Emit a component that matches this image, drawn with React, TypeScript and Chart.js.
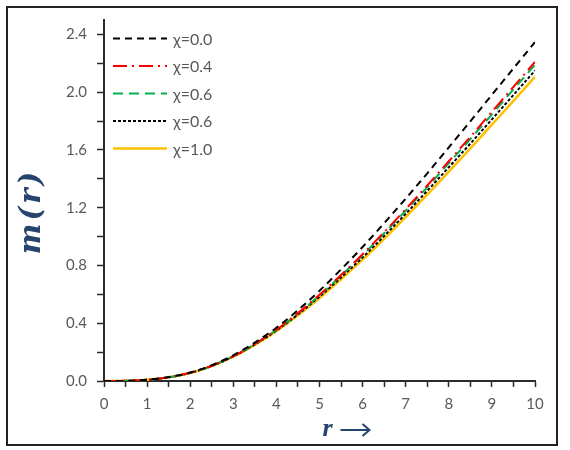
import React, { useEffect, useRef } from "react";
import { Chart, registerables } from "chart.js";

Chart.register(...registerables);

const rValues = [0, 0.5, 1, 1.5, 2, 2.5, 3, 3.5, 4, 4.5, 5, 5.5, 6, 6.5, 7, 7.5, 8, 8.5, 9, 9.5, 10];
const chi00 = [0, 0.001, 0.009, 0.027, 0.059, 0.109, 0.178, 0.266, 0.369, 0.49, 0.625, 0.773, 0.928, 1.093, 1.263, 1.438, 1.618, 1.798, 1.982, 2.165, 2.347];
const chi04 = [0, 0.001, 0.008, 0.026, 0.057, 0.106, 0.172, 0.257, 0.355, 0.47, 0.597, 0.734, 0.878, 1.031, 1.19, 1.354, 1.522, 1.691, 1.864, 2.037, 2.21];
const chi06a = [0, 0.001, 0.008, 0.026, 0.056, 0.105, 0.172, 0.256, 0.353, 0.467, 0.593, 0.729, 0.871, 1.023, 1.18, 1.342, 1.509, 1.676, 1.847, 2.019, 2.19];
const chi06b = [0, 0.001, 0.008, 0.025, 0.056, 0.104, 0.17, 0.253, 0.349, 0.461, 0.584, 0.717, 0.856, 1.004, 1.158, 1.317, 1.48, 1.644, 1.812, 1.981, 2.15];
const chi10 = [0, 0.001, 0.008, 0.025, 0.055, 0.103, 0.168, 0.25, 0.345, 0.455, 0.575, 0.705, 0.84, 0.985, 1.135, 1.29, 1.45, 1.61, 1.775, 1.94, 2.106];
const seriesLabels = ["χ=0.0", "χ=0.4", "χ=0.6", "χ=0.6", "χ=1.0"];
const xTitle = "r";
const yTitle = "m(r)";

const TICK_FONT = { family: "Lato, 'Open Sans', sans-serif", size: 15 };
const TEXT_GRAY = "#595959";
const AXIS_COLOR = "#2b2b2b";
const TITLE_COLOR = "#26446e";

const legendTitlesPlugin = {
  id: "legendTitles",
  afterDatasetsDraw(chart: any) {
    const ctx = chart.ctx;
    const area = chart.chartArea;
    ctx.save();
    const x0 = area.left + 9;
    const x1 = area.left + 63;
    chart.data.datasets.forEach((ds: any, i: number) => {
      const y = area.top + 18.5 + i * 27.5;
      ctx.beginPath();
      ctx.setLineDash(ds.borderDash || []);
      ctx.strokeStyle = ds.borderColor;
      ctx.lineWidth = ds.borderWidth;
      ctx.moveTo(x0, y);
      ctx.lineTo(x1, y);
      ctx.stroke();
      ctx.setLineDash([]);
      ctx.fillStyle = TEXT_GRAY;
      ctx.font = "16px Lato, 'Open Sans', sans-serif";
      ctx.textBaseline = "middle";
      ctx.textAlign = "left";
      ctx.fillText(ds.label, x1 + 6, y + 1);
    });
    ctx.fillStyle = TITLE_COLOR;
    ctx.strokeStyle = TITLE_COLOR;
    ctx.textBaseline = "middle";
    ctx.save();
    ctx.translate(24, (area.top + area.bottom) / 2 + 11);
    ctx.rotate(-Math.PI / 2);
    ctx.textAlign = "center";
    ctx.font = "bold italic 29px 'DejaVu Serif', serif";
    try { (ctx as any).letterSpacing = "3px"; } catch (e) {}
    ctx.fillText(yTitle, 0, 0);
    try { (ctx as any).letterSpacing = "0px"; } catch (e) {}
    ctx.restore();
    const cx = (area.left + area.right) / 2 + 23;
    const cy = area.bottom + 48;
    ctx.font = "bold italic 26px 'Liberation Serif', serif";
    ctx.textAlign = "right";
    ctx.fillText(xTitle, cx - 10, cy);
    ctx.lineWidth = 2;
    ctx.beginPath();
    ctx.moveTo(cx - 2, cy + 1);
    ctx.lineTo(cx + 26, cy + 1);
    ctx.stroke();
    ctx.beginPath();
    ctx.moveTo(cx + 20, cy - 5);
    ctx.lineTo(cx + 27, cy + 1);
    ctx.lineTo(cx + 20, cy + 7);
    ctx.stroke();
    ctx.restore();
  },
};

export default function App() {
  const ref = useRef<HTMLCanvasElement | null>(null);
  useEffect(() => {
    if (!ref.current) return;
    const mk = (vals: number[]) => rValues.map((r, i) => ({ x: r, y: vals[i] }));
    const chart = new Chart(ref.current, {
      type: "line",
      data: {
        datasets: [
          { label: seriesLabels[0], data: mk(chi00), borderColor: "#000000", borderWidth: 2, borderDash: [7, 5] },
          { label: seriesLabels[1], data: mk(chi04), borderColor: "#FF0000", borderWidth: 2, borderDash: [14, 5, 2, 5] },
          { label: seriesLabels[2], data: mk(chi06a), borderColor: "#00B050", borderWidth: 2, borderDash: [10, 6] },
          { label: seriesLabels[3], data: mk(chi06b), borderColor: "#000000", borderWidth: 2, borderDash: [3, 2] },
          { label: seriesLabels[4], data: mk(chi10), borderColor: "#FFC000", borderWidth: 2.5, borderDash: [] },
        ].map((d) => ({ ...d, pointRadius: 0, fill: false, cubicInterpolationMode: "monotone" as const })),
      },
      options: {
        animation: false,
        responsive: false,
        layout: { padding: { left: 0, right: 21, top: 12, bottom: 0 } },
        plugins: { legend: { display: false }, tooltip: { enabled: false } },
        scales: {
          x: {
            type: "linear",
            min: 0,
            max: 10,
            afterFit: (s: any) => { s.height = 63; },
            ticks: {
              stepSize: 0.5,
              autoSkip: false,
              maxRotation: 0,
              padding: 8,
              color: TEXT_GRAY,
              font: TICK_FONT,
              callback: (v: any) => (Number.isInteger(v) ? String(v) : ""),
            },
            grid: { drawOnChartArea: false, drawTicks: true, tickLength: 6, tickColor: AXIS_COLOR, tickWidth: 1.5 },
            border: { display: true, color: AXIS_COLOR, width: 2 },
          },
          y: {
            type: "linear",
            min: 0,
            max: 2.5,
            afterFit: (s: any) => { s.width = 96; s.paddingTop = 0; s.paddingBottom = 0; },
            ticks: {
              stepSize: 0.2,
              includeBounds: false,
              autoSkip: false,
              padding: 10,
              color: TEXT_GRAY,
              font: TICK_FONT,
              callback: (v: any) => {
                const k = Math.round(v * 10);
                return k % 4 === 0 ? (k / 10).toFixed(1) : "";
              },
            },
            grid: { drawOnChartArea: false, drawTicks: true, tickLength: 7, tickColor: AXIS_COLOR, tickWidth: 1.5 },
            border: { display: true, color: AXIS_COLOR, width: 2 },
          },
        },
      },
      plugins: [legendTitlesPlugin],
    });
    return () => chart.destroy();
  }, []);
  return (
    <div
      style={{
        position: "absolute",
        left: 6,
        top: 6,
        width: 552,
        height: 440,
        border: "2px solid #222",
        boxSizing: "border-box",
        background: "#fff",
      }}
    >
      <canvas ref={ref} width={548} height={436} style={{ display: "block", width: 548, height: 436 }} />
    </div>
  );
}
